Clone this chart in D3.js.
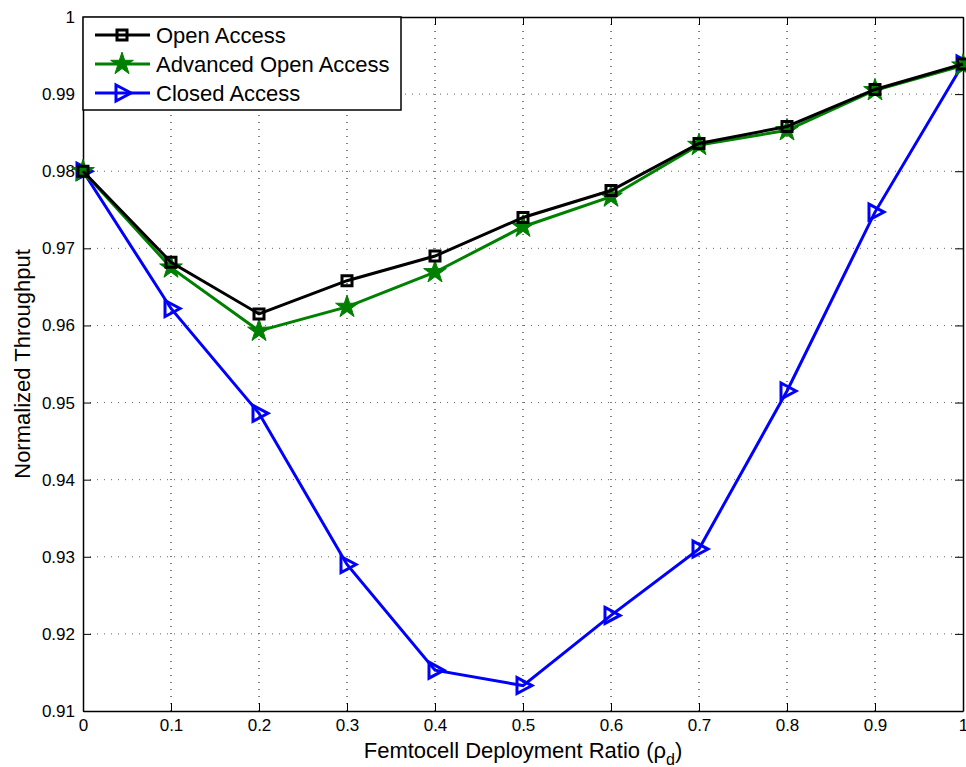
<!DOCTYPE html>
<html><head><meta charset="utf-8">
<script src="https://cdn.jsdelivr.net/npm/d3@7"></script>
<style>body{margin:0;background:#fff}svg{display:block}text{font-family:"Liberation Sans",Arial,sans-serif}</style>
</head><body><svg id="c" width="966" height="767"></svg>
<script>
const xValues=[0,0.1,0.2,0.3,0.4,0.5,0.6,0.7,0.8,0.9,1];
const openAccess=[0.9800,0.9682,0.9615,0.9658,0.9690,0.9740,0.9775,0.9836,0.9858,0.9906,0.9939];
const advancedOpenAccess=[0.9800,0.9675,0.9593,0.9624,0.9669,0.9728,0.9767,0.9834,0.9853,0.9905,0.9937];
const closedAccess=[0.9800,0.9622,0.9486,0.9290,0.9153,0.9133,0.9224,0.9310,0.9515,0.9747,0.9939];
const xTicks=[0,0.1,0.2,0.3,0.4,0.5,0.6,0.7,0.8,0.9,1];
const yTicks=[0.91,0.92,0.93,0.94,0.95,0.96,0.97,0.98,0.99,1];
const xTickLabels=["0","0.1","0.2","0.3","0.4","0.5","0.6","0.7","0.8","0.9","1"];
const yTickLabels=["0.91","0.92","0.93","0.94","0.95","0.96","0.97","0.98","0.99","1"];
const seriesNames=["Open Access","Advanced Open Access","Closed Access"];
const seriesColors=["#000000","#008000","#0000ff"];

const L=83,R=963,T=17,B=711;
const svg=d3.select("#c");
const x=d3.scaleLinear().domain([0,1]).range([L,R]);
const y=d3.scaleLinear().domain([0.91,1]).range([B,T]);

// grid
const g=svg.append("g");
g.selectAll(".vg").data(xTicks.slice(1,-1)).enter().append("line")
 .attr("x1",d=>x(d)).attr("x2",d=>x(d)).attr("y1",T).attr("y2",B)
 .attr("stroke","#000").attr("stroke-width",1).attr("stroke-dasharray","1,6");
g.selectAll(".hg").data(yTicks.slice(1,-1)).enter().append("line")
 .attr("y1",d=>y(d)).attr("y2",d=>y(d)).attr("x1",L).attr("x2",R)
 .attr("stroke","#666").attr("stroke-width",1).attr("stroke-dasharray","1,6");

// axes
const xAxB=d3.axisBottom(x).tickValues(xTicks).tickFormat((d,i)=>xTickLabels[i]).tickSizeInner(-8).tickSizeOuter(0).tickPadding(8);
const xAxT=d3.axisTop(x).tickValues(xTicks).tickFormat("").tickSizeInner(-8).tickSizeOuter(0);
const yAxL=d3.axisLeft(y).tickValues(yTicks).tickFormat((d,i)=>yTickLabels[i]).tickSizeInner(-8).tickSizeOuter(0).tickPadding(8);
const yAxR=d3.axisRight(y).tickValues(yTicks).tickFormat("").tickSizeInner(-8).tickSizeOuter(0);
function style(sel){sel.selectAll("path").attr("stroke","#000").attr("stroke-width",1.5);
 sel.selectAll("line").attr("stroke","#000").attr("stroke-width",1);
 sel.selectAll("text").attr("fill","#000").style("font-size","17px").style("font-family","'Liberation Sans',Arial,sans-serif");}
svg.append("g").attr("transform",`translate(0,${B})`).call(xAxB).call(style);
svg.append("g").attr("transform",`translate(0,${T})`).call(xAxT).call(style);
svg.append("g").attr("transform",`translate(${L},0)`).call(yAxL).call(style);
svg.append("g").attr("transform",`translate(${R},0)`).call(yAxR).call(style);

// axis labels
svg.append("text").attr("x",(L+R)/2).attr("y",758).attr("text-anchor","middle").style("font-size","22px")
 .html('Femtocell Deployment Ratio (ρ<tspan dy="7" font-size="16px">d</tspan><tspan dy="-7">)</tspan>');
svg.append("text").attr("transform",`translate(30,${(T+B)/2}) rotate(-90)`).attr("text-anchor","middle").style("font-size","22px").text("Normalized Throughput");

// series
const series=[openAccess,advancedOpenAccess,closedAccess];
const line=d3.line().x((d,i)=>x(xValues[i])).y(d=>y(d));
const starPath=d3.symbol().type(d3.symbolStar).size(160)();
const sqPath=d3.symbol().type(d3.symbolSquare).size(100)();
const triPath="M-6,-8 L9,0 L-6,8 Z";
function marker(sel,k){
 if(k===0) sel.append("path").attr("d",sqPath).attr("fill","none").attr("stroke",seriesColors[0]).attr("stroke-width",3);
 else if(k===1) sel.append("path").attr("d",starPath).attr("fill",seriesColors[1]).attr("stroke",seriesColors[1]).attr("stroke-width",1);
 else sel.append("path").attr("d",triPath).attr("fill","none").attr("stroke",seriesColors[2]).attr("stroke-width",3);
}
[2,1,0].forEach(k=>{
 const gs=svg.append("g");
 gs.append("path").datum(series[k]).attr("d",line).attr("fill","none").attr("stroke",seriesColors[k]).attr("stroke-width",3);
 series[k].forEach((v,i)=>{const m=gs.append("g").attr("transform",`translate(${x(xValues[i])},${y(v)})`);marker(m,k);});
});

// legend
const lg=svg.append("g");
lg.append("rect").attr("x",L).attr("y",T).attr("width",318).attr("height",93).attr("fill","#fff").attr("stroke","#000").attr("stroke-width",1.5);
seriesNames.forEach((n,k)=>{
 const yy=T+18+k*29;
 lg.append("line").attr("x1",95).attr("x2",150).attr("y1",yy).attr("y2",yy).attr("stroke",seriesColors[k]).attr("stroke-width",3);
 const m=lg.append("g").attr("transform",`translate(122,${yy})`);marker(m,k);
 lg.append("text").attr("x",156).attr("y",yy+8).style("font-size","22px").text(n);
});
</script></body></html>
